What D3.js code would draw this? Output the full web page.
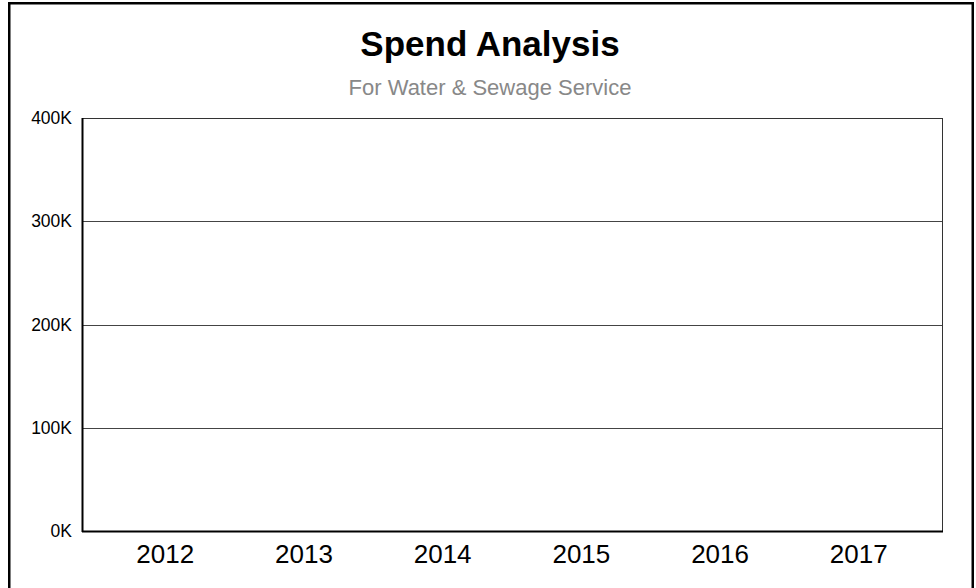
<!DOCTYPE html>
<html>
<head>
<meta charset="utf-8">
<script src="https://cdn.jsdelivr.net/npm/d3@7"></script>
<style>
  html, body { margin: 0; padding: 0; background: #fff; overflow: hidden; }
  svg { display: block; font-family: "Liberation Sans", Arial, sans-serif; }
</style>
</head>
<body>
<div id="chart"></div>
<script>
const years = ['2012', '2013', '2014', '2015', '2016', '2017'];
const spend = [0, 0, 0, 0, 0, 0];
const yTicks = [0, 100000, 200000, 300000, 400000];

const width = 976;
const height = 588;
const margin = {top: 118, right: 34, bottom: 57, left: 82};

const svg = d3.select('#chart').append('svg')
  .attr('width', width)
  .attr('height', height);

// outer frame, bottom edge runs past the window
svg.append('rect')
  .attr('x', 9.25)
  .attr('y', 3.25)
  .attr('width', 963.5)
  .attr('height', 620)
  .attr('fill', 'none')
  .attr('stroke', '#000')
  .attr('stroke-width', 2.5);

svg.append('text')
  .attr('x', 490)
  .attr('y', 56)
  .attr('text-anchor', 'middle')
  .attr('font-size', 35)
  .attr('font-weight', 'bold')
  .attr('fill', '#000')
  .text('Spend Analysis');

svg.append('text')
  .attr('x', 490)
  .attr('y', 95)
  .attr('text-anchor', 'middle')
  .attr('font-size', 22)
  .attr('fill', '#888')
  .text('For Water & Sewage Service');

const x = d3.scaleBand()
  .domain(years)
  .range([margin.left, width - margin.right])
  .padding(0.2);

const y = d3.scaleLinear()
  .domain([0, 400000])
  .range([height - margin.bottom, margin.top]);

const plotW = width - margin.right - margin.left;

// gridlines
svg.append('g')
  .selectAll('line')
  .data(yTicks.filter(d => d > 0 && d < 400000))
  .join('line')
  .attr('x1', margin.left)
  .attr('x2', width - margin.right)
  .attr('y1', d => Math.round(y(d)) + 0.5)
  .attr('y2', d => Math.round(y(d)) + 0.5)
  .attr('stroke', '#444')
  .attr('stroke-width', 1);

// bars (all empty in this period)
svg.append('g')
  .attr('fill', '#4572a7')
  .selectAll('rect')
  .data(years.map((d, i) => ({year: d, value: spend[i]})))
  .join('rect')
  .attr('x', d => x(d.year))
  .attr('width', x.bandwidth())
  .attr('y', d => y(d.value))
  .attr('height', d => y(0) - y(d.value));

// plot box: thin top/right, heavier left/bottom axis lines
svg.append('rect')
  .attr('x', margin.left + 0.5)
  .attr('y', margin.top + 0.5)
  .attr('width', plotW)
  .attr('height', y(0) - margin.top)
  .attr('fill', 'none')
  .attr('stroke', '#333')
  .attr('stroke-width', 1);

svg.append('line')
  .attr('x1', margin.left + 0.5)
  .attr('x2', margin.left + 0.5)
  .attr('y1', margin.top)
  .attr('y2', y(0) + 1)
  .attr('stroke', '#000')
  .attr('stroke-width', 2);

svg.append('line')
  .attr('x1', margin.left)
  .attr('x2', width - margin.right + 1)
  .attr('y1', y(0) + 0.5)
  .attr('y2', y(0) + 0.5)
  .attr('stroke', '#000')
  .attr('stroke-width', 2);

// y axis labels
const yAxis = d3.axisLeft(y)
  .tickValues(yTicks)
  .tickSize(0)
  .tickPadding(10)
  .tickFormat(d => (d / 1000) + 'K');

svg.append('g')
  .attr('transform', `translate(${margin.left},0)`)
  .call(yAxis)
  .call(g => g.select('.domain').remove())
  .selectAll('text')
  .attr('font-family', '"Liberation Sans", Arial, sans-serif')
  .attr('font-size', 17.5)
  .attr('fill', '#000');

// x axis labels
const xAxis = d3.axisBottom(x)
  .tickSize(0)
  .tickPadding(14);

svg.append('g')
  .attr('transform', `translate(0,${y(0)})`)
  .call(xAxis)
  .call(g => g.select('.domain').remove())
  .selectAll('text')
  .attr('font-family', '"Liberation Sans", Arial, sans-serif')
  .attr('font-size', 26)
  .attr('fill', '#000');
</script>
</body>
</html>
